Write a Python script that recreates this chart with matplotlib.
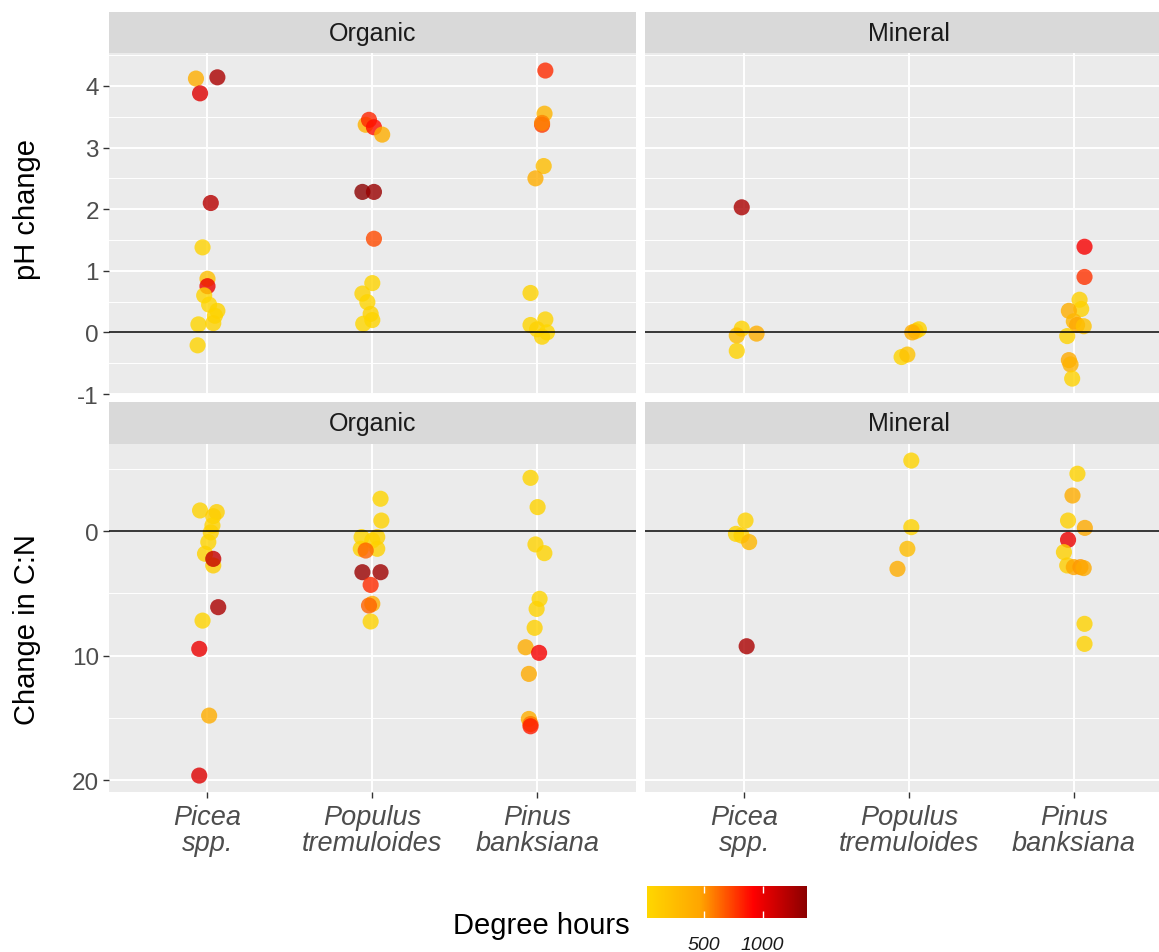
import numpy as np
import matplotlib
matplotlib.use("Agg")
import matplotlib.pyplot as plt
from matplotlib.colors import LinearSegmentedColormap, Normalize
from matplotlib.cm import ScalarMappable
from matplotlib.ticker import MultipleLocator

plt.rcParams['font.family'] = ['Liberation Sans', 'DejaVu Sans']
plt.rcParams['axes.unicode_minus'] = False

# --- data -------------------------------------------------------------------
species = ["Picea\nspp.", "Populus\ntremuloides", "Pinus\nbanksiana"]
horizons = ["Organic", "Mineral"]
row_titles = ["pH change", "Change in C:N"]

# pH change, organic horizon (species index, value, degree hours, jitter)
ph_org_sp = [0]*14 + [1]*13 + [2]*12
ph_org_val = [4.12, 4.14, 3.88, 2.10, 1.38, 0.87, 0.75, 0.60, 0.45, 0.35, 0.27, 0.15, 0.13, -0.21,
              3.37, 3.45, 3.33, 3.21, 2.28, 2.28, 1.52, 0.80, 0.63, 0.49, 0.30, 0.20, 0.14,
              4.25, 3.55, 3.37, 3.40, 2.70, 2.50, 0.64, 0.21, 0.12, 0.05, 0.00, -0.07]
ph_org_dh = [380, 1250, 1050, 1200, 60, 220, 1000, 40, 30, 50, 40, 60, 30, 40,
             350, 820, 880, 380, 1375, 1320, 720, 40, 50, 30, 60, 40, 20,
             800, 320, 760, 560, 250, 400, 50, 40, 30, 60, 12, 40]
ph_org_jit = [-0.07, 0.06, -0.045, 0.02, -0.03, 0.0, 0.0, -0.02, 0.01, 0.06, 0.045, 0.035, -0.055, -0.06,
              -0.04, -0.02, 0.01, 0.06, -0.06, 0.01, 0.01, 0.0, -0.06, -0.03, -0.01, 0.0, -0.055,
              0.05, 0.045, 0.03, 0.03, 0.04, -0.01, -0.04, 0.05, -0.04, 0.0, 0.06, 0.03]

# pH change, mineral horizon
ph_min_sp = [0]*5 + [1]*5 + [2]*12
ph_min_val = [2.03, 0.06, -0.05, -0.02, -0.30,
              0.05, 0.02, 0.00, -0.40, -0.36,
              1.39, 0.90, 0.53, 0.38, 0.35, 0.18, 0.12, 0.10, -0.06, -0.45, -0.52, -0.75]
ph_min_dh = [1250, 60, 250, 380, 50,
             60, 120, 400, 40, 200,
             950, 780, 80, 60, 380, 300, 450, 200, 60, 420, 350, 60]
ph_min_jit = [-0.015, -0.015, -0.045, 0.075, -0.045,
              0.06, 0.04, 0.02, -0.045, -0.01,
              0.065, 0.065, 0.035, 0.045, -0.03, 0.0, 0.02, 0.06, -0.04, -0.03, -0.02, -0.01]

# change in C:N, organic horizon
cn_org_sp = [0]*14 + [1]*14 + [2]*13
cn_org_val = [-1.66, -1.53, -1.20, -0.45, 0.10, 0.88, 1.82, 2.76, 2.23, 6.11, 7.19, 9.46, 14.82, 19.64,
              -2.60, -0.85, 0.48, 0.48, 0.75, 1.42, 1.42, 1.56, 3.30, 3.30, 4.32, 5.84, 5.98, 7.26,
              -4.28, -1.93, 1.07, 1.77, 5.44, 6.25, 7.77, 9.33, 9.78, 11.47, 15.09, 15.50, 15.68]
cn_org_dh = [60, 80, 100, 50, 70, 40, 60, 100, 1150, 1250, 40, 1000, 400, 1050,
             30, 50, 40, 60, 50, 40, 70, 650, 1320, 1300, 800, 400, 650, 60,
             40, 50, 60, 40, 30, 60, 80, 400, 950, 420, 380, 600, 850]
cn_org_jit = [-0.045, 0.056, 0.035, 0.03, 0.02, 0.005, -0.015, 0.035, 0.035, 0.065, -0.03, -0.05, 0.01, -0.05,
              0.05, 0.055, -0.065, 0.03, 0.0, -0.07, 0.03, -0.04, -0.06, 0.05, -0.01, 0.0, -0.02, -0.01,
              -0.04, 0.003, -0.01, 0.044, 0.015, -0.003, -0.015, -0.07, 0.012, -0.05, -0.05, -0.04, -0.04]

# change in C:N, mineral horizon
cn_min_sp = [0]*5 + [1]*4 + [2]*12
cn_min_val = [-0.85, 0.22, 0.35, 0.88, 9.25,
              -5.67, -0.32, 1.42, 3.03,
              -4.61, -2.86, -0.85, -0.26, 0.70, 1.69, 2.76, 2.89, 2.89, 2.97, 7.45, 9.06]
cn_min_dh = [60, 40, 80, 300, 1250,
             40, 60, 250, 400,
             60, 400, 80, 420, 1000, 70, 100, 450, 500, 420, 60, 50]
cn_min_jit = [0.008, -0.05, -0.016, 0.03, 0.015,
              0.014, 0.014, -0.01, -0.07,
              0.022, -0.008, -0.035, 0.067, -0.035, -0.06, -0.04, 0.0, 0.04, 0.06, 0.065, 0.065]

panels = [
    [(ph_org_sp, ph_org_val, ph_org_dh, ph_org_jit), (ph_min_sp, ph_min_val, ph_min_dh, ph_min_jit)],
    [(cn_org_sp, cn_org_val, cn_org_dh, cn_org_jit), (cn_min_sp, cn_min_val, cn_min_dh, cn_min_jit)],
]

# --- colour scale -------------------------------------------------------------
all_dh = ph_org_dh + ph_min_dh + cn_org_dh + cn_min_dh
cmap = LinearSegmentedColormap.from_list("heat", ["gold", "orange", "red", "darkred"])
norm = Normalize(vmin=min(all_dh), vmax=max(all_dh))

# --- layout (pixels) --------------------------------------------------------
W, H = 1159, 953
col_x = [(108.6, 636.0), (645.3, 1172.7)]
row_y = [(54.3, 395.0), (445.0, 793.0)]
strip_y = [(13.3, 54.3), (403.0, 445.0)]
ylims = [(-1.0, 4.53), (20.96, -7.0)]
row_major = [1, 10]
row_minor = [0.5, 5]
title_y = [210, 630]

BG = "#EBEBEB"
STRIP = "#D9D9D9"
AXIS_TXT = "#4D4D4D"


def rect(x0, x1, y0, y1):
    return [x0 / W, 1 - y1 / H, (x1 - x0) / W, (y1 - y0) / H]


fig = plt.figure(figsize=(W / 100, H / 100), dpi=100)

for r in range(2):
    for c in range(2):
        ax = fig.add_axes(rect(*col_x[c], *row_y[r]))
        ax.set_facecolor(BG)
        for s in ax.spines.values():
            s.set_visible(False)
        ax.set_xlim(0.4, 3.6)
        ax.set_ylim(*ylims[r])
        ax.yaxis.set_major_locator(MultipleLocator(row_major[r]))
        ax.yaxis.set_minor_locator(MultipleLocator(row_minor[r]))
        ax.set_xticks([1, 2, 3])
        ax.grid(True, which="major", color="white", lw=1.4, zorder=0)
        ax.grid(True, which="minor", axis="y", color="white", lw=0.7, zorder=0)
        ax.set_axisbelow(True)

        sp, val, dh, jit = panels[r][c]
        xs = np.array(sp) + 1 + np.array(jit)
        ax.scatter(xs, val, c=dh, cmap=cmap, norm=norm, s=135, alpha=0.8,
                   linewidths=0, zorder=2)
        ax.axhline(0, color="black", lw=1.1, zorder=3)

        ax.tick_params(which="minor", length=0)
        ax.tick_params(which="major", length=4, width=1, color="#333333",
                       labelcolor=AXIS_TXT)
        if c == 0:
            ax.tick_params(axis="y", labelsize=17.5, pad=3)
        else:
            ax.tick_params(axis="y", left=False, labelleft=False)
        if r == 1:
            ax.set_xticklabels(species, fontsize=19.5, style="italic",
                               linespacing=1.0)
            ax.tick_params(axis="x", pad=5)
        else:
            ax.tick_params(axis="x", bottom=False, labelbottom=False)

        st = fig.add_axes(rect(*col_x[c], *strip_y[r]))
        st.set_facecolor(STRIP)
        st.set_xticks([])
        st.set_yticks([])
        for s in st.spines.values():
            s.set_visible(False)
        st.text(0.5, 0.5, horizons[c], transform=st.transAxes, ha="center",
                va="center", fontsize=18, color="#1A1A1A")

# row titles
for r in range(2):
    fig.text(27 / W, 1 - title_y[r] / H, row_titles[r], rotation=90,
             ha="center", va="center", fontsize=21)

# colour bar legend
cax = fig.add_axes(rect(646.7, 806.7, 886.7, 919.3))
cb = fig.colorbar(ScalarMappable(norm=norm, cmap=cmap), cax=cax,
                  orientation="horizontal")
cb.outline.set_visible(False)
cb.set_ticks([500, 1000])
cb.minorticks_off()
cax.tick_params(which="major", direction="in", length=4.7, width=1,
                color="white", top=True, bottom=True, labelsize=14,
                labelcolor="#1A1A1A", pad=13)
for t in cax.get_xticklabels():
    t.set_fontstyle("italic")
fig.text(630 / W, 1 - 934 / H, "Degree hours", ha="right", va="baseline",
         fontsize=21)

fig.savefig("out.png", dpi=100)
